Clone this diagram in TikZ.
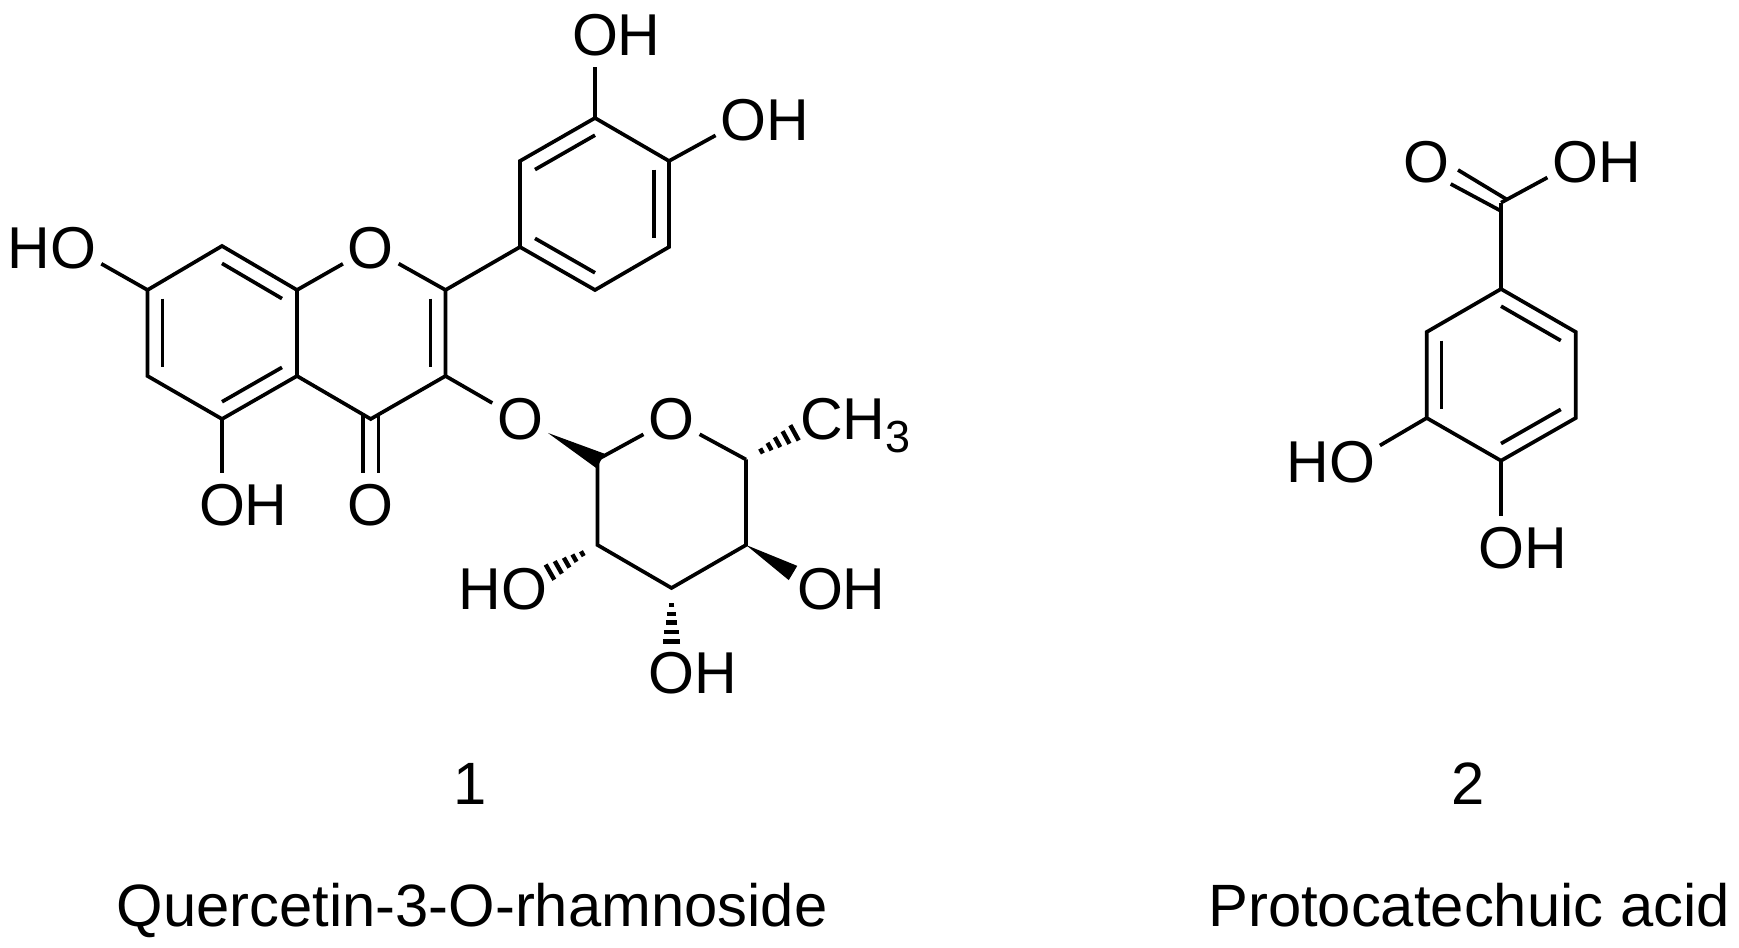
\documentclass[tikz,border=0pt]{standalone}
\usepackage{fontspec}
\setmainfont{Liberation Sans}
\usetikzlibrary{calc}
\tikzset{bond/.style={line width=1.05pt}}
\tikzset{atom/.style={circle,inner sep=0pt,outer sep=0pt,minimum size=.64cm,font=\fontsize{16.8}{20}\selectfont}}
\tikzset{caption/.style={anchor=base,inner sep=0pt,font=\fontsize{17}{20}\selectfont}}
\newcommand{\innerbond}[3]{\draw[bond] ($(#1)!.2!(#3)$) -- ($(#2)!.2!(#3)$);}
\newcommand{\wedgebond}[2]{\fill (#1) -- ($(#2)!.083cm!90:(#1)$) -- ($(#2)!.083cm!-90:(#1)$) -- cycle;}
\newcommand{\hashbond}[2]{\foreach \tpos in {.31,.47,.63,.8,.97}{\draw[line width=1.25pt] ($(#1)!\tpos!(#2)!\tpos*.09cm!90:(#2)$) -- ($(#1)!\tpos!(#2)!\tpos*.09cm!-90:(#2)$);}}
\begin{document}
\begin{tikzpicture}
        \useasboundingbox (0,0) rectangle (17.39,-9.48);
        \coordinate (c8) at (2.22,-2.46);
        \coordinate (c8a) at (2.97,-2.90);
        \coordinate (c4a) at (2.97,-3.76);
        \coordinate (c5) at (2.22,-4.19);
        \coordinate (c6) at (1.475,-3.76);
        \coordinate (c7) at (1.475,-2.90);
        \coordinate (c2) at (4.455,-2.90);
        \coordinate (c3) at (4.455,-3.76);
        \coordinate (c4) at (3.707,-4.19);
        \coordinate (ringa) at (2.22,-3.33);
        \coordinate (ringc) at (3.707,-3.33);
        \node[atom] (o1) at (3.707,-2.48) {O};
        \node[atom] (o4) at (3.707,-5.05) {O};
        \node[atom] (o5) at (2.22,-5.05) {O\rlap{H}};
        \node[atom] (o7) at (.735,-2.48) {\llap{H}O};
        \draw[bond] (c8) -- (c8a) -- (c4a) -- (c5) -- (c6) -- (c7) -- cycle;
        \draw[bond] (c8a) -- (o1);
        \draw[bond] (o1) -- (c2);
        \draw[bond] (c2) -- (c3) -- (c4) -- (c4a);
        \draw[bond] (c5) -- (o5);
        \draw[bond] (c7) -- (o7);
        \coordinate (co1) at (3.63,-4.146);
        \coordinate (co2) at (3.63,-4.73);
        \coordinate (co3) at (3.785,-4.146);
        \coordinate (co4) at (3.785,-4.73);
        \draw[bond] (co1) -- (co2);
        \draw[bond] (co3) -- (co4);
        \innerbond{c7}{c6}{ringa}
        \innerbond{c8}{c8a}{ringa}
        \innerbond{c4a}{c5}{ringa}
        \innerbond{c2}{c3}{ringc}
        \coordinate (b1) at (5.20,-2.47);
        \coordinate (b2) at (5.20,-1.61);
        \coordinate (b3) at (5.95,-1.18);
        \coordinate (b4) at (6.69,-1.61);
        \coordinate (b5) at (6.69,-2.47);
        \coordinate (b6) at (5.95,-2.90);
        \coordinate (ringb) at (5.95,-2.04);
        \node[atom] (o3b) at (5.95,-.35) {O\rlap{H}};
        \node[atom] (o4b) at (7.436,-1.20) {O\rlap{H}};
        \draw[bond] (b1) -- (b2) -- (b3) -- (b4) -- (b5) -- (b6) -- cycle;
        \draw[bond] (c2) -- (b1);
        \draw[bond] (b3) -- (o3b);
        \draw[bond] (b4) -- (o4b);
        \innerbond{b2}{b3}{ringb}
        \innerbond{b4}{b5}{ringb}
        \innerbond{b6}{b1}{ringb}
        \node[atom] (og) at (5.20,-4.19) {O};
        \coordinate (r1) at (5.975,-4.595);
        \node[atom] (or) at (6.715,-4.19) {O};
        \coordinate (r5) at (7.46,-4.595);
        \coordinate (r4) at (7.46,-5.45);
        \coordinate (r3) at (6.715,-5.88);
        \coordinate (r2) at (5.975,-5.45);
        \node[atom] (ch3) at (8.215,-4.19) {C\rlap{\smash{H\raisebox{-3.7pt}{\fontsize{12.8}{14}\selectfont 3}}}};
        \node[atom] (o2r) at (5.24,-5.89) {\llap{H}O};
        \node[atom] (o3r) at (6.715,-6.735) {O\rlap{H}};
        \node[atom] (o4r) at (8.20,-5.89) {O\rlap{H}};
        \draw[bond] (c3) -- (og);
        \draw[bond] (r1) -- (or);
        \draw[bond] (or) -- (r5);
        \draw[bond] (r5) -- (r4) -- (r3) -- (r2) -- (r1);
        \coordinate (w1a) at (5.48,-4.33);
        \coordinate (w1b) at (6.005,-4.61);
        \coordinate (w4b) at (7.93,-5.73);
        \coordinate (h5) at (7.96,-4.32);
        \coordinate (h2) at (5.485,-5.73);
        \coordinate (h3) at (6.715,-6.43);
        \wedgebond{w1a}{w1b}
        \wedgebond{r4}{w4b}
        \hashbond{r5}{h5}
        \hashbond{r2}{h2}
        \hashbond{r3}{h3}
        \coordinate (p1) at (15.01,-2.89);
        \coordinate (p2) at (15.757,-3.32);
        \coordinate (p3) at (15.757,-4.18);
        \coordinate (p4) at (15.01,-4.607);
        \coordinate (p5) at (14.267,-4.18);
        \coordinate (p6) at (14.267,-3.32);
        \coordinate (ringp) at (15.01,-3.75);
        \coordinate (cooh) at (15.01,-2.027);
        \node[atom] (oc) at (14.267,-1.623) {O};
        \node[atom] (oa) at (15.755,-1.623) {O\rlap{H}};
        \node[atom] (o5p) at (13.523,-4.617) {\llap{H}O};
        \node[atom] (o4p) at (15.01,-5.483) {O\rlap{H}};
        \draw[bond] (p1) -- (p2) -- (p3) -- (p4) -- (p5) -- (p6) -- cycle;
        \draw[bond] (p1) -- (cooh);
        \draw[bond] (cooh) -- (oa);
        \draw[bond] (p5) -- (o5p);
        \draw[bond] (p4) -- (o4p);
        \coordinate (cd1) at (15.01,-2.11);
        \coordinate (cd2) at (14.507,-1.84);
        \coordinate (cd3) at (15.06,-1.99);
        \coordinate (cd4) at (14.58,-1.70);
        \draw[bond] (cd1) -- (cd2);
        \draw[bond] (cd3) -- (cd4);
        \innerbond{p1}{p2}{ringp}
        \innerbond{p6}{p5}{ringp}
        \innerbond{p3}{p4}{ringp}
        \node[caption] (num1) at (4.70,-8.04) {1};
        \node[caption] (num2) at (14.676,-8.04) {2};
        \node[caption] (name1) at (4.72,-9.26) {Quercetin-3-O-rhamnoside};
        \node[caption] (name2) at (14.69,-9.26) {Protocatechuic acid};
    \end{tikzpicture}
\end{document}
